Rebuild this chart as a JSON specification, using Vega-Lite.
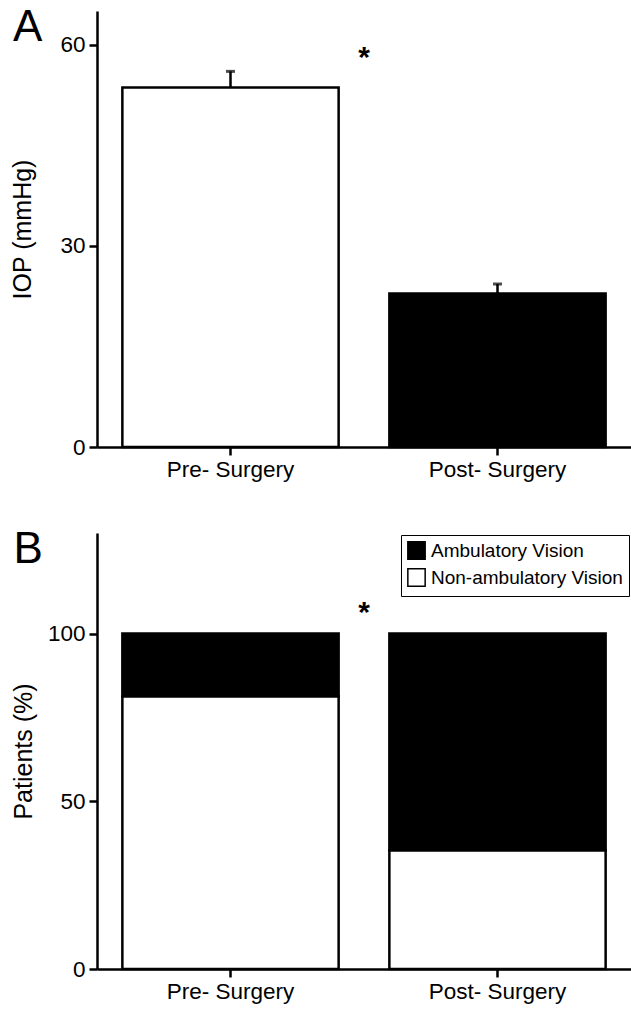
{
  "$schema": "https://vega.github.io/schema/vega-lite/v6.json",
  "padding": {"left": 10, "top": 6, "right": 0, "bottom": 5},
  "background": "white",
  "config": {
    "font": "Liberation Sans",
    "view": {"stroke": null},
    "axis": {
      "domainColor": "black", "domainWidth": 2.5, "tickColor": "black", "tickWidth": 2.5,
      "tickSize": 8, "labelColor": "black", "labelFontSize": 22.5, "labelFont": "Liberation Sans",
      "titleFont": "Liberation Sans", "titleFontSize": 25, "titleFontWeight": "normal", "titleColor": "black",
      "grid": false, "labelPadding": 4
    }
  },
  "datasets": {
    "iop": [
      {"group": "Pre- Surgery", "mean": 53.6, "upper": 56.0},
      {"group": "Post- Surgery", "mean": 22.9, "upper": 24.3}
    ],
    "vision": [
      {"group": "Pre- Surgery", "status": "Non-ambulatory Vision", "pct": 81.3},
      {"group": "Pre- Surgery", "status": "Ambulatory Vision", "pct": 18.7},
      {"group": "Post- Surgery", "status": "Non-ambulatory Vision", "pct": 35.4},
      {"group": "Post- Surgery", "status": "Ambulatory Vision", "pct": 64.6}
    ],
    "starA": [{"label": "*", "y": 58.6}],
    "starB": [{"label": "*", "y": 107.4}]
  },
  "spacing": 47,
  "resolve": {"scale": {"fill": "independent"}, "legend": {"fill": "independent"}},
  "vconcat": [
    {
      "width": 534, "height": 436,
      "title": {"text": "A", "anchor": "start", "frame": "bounds", "fontSize": 44, "fontWeight": "normal", "font": "Liberation Sans", "offset": -39, "dx": 2, "color": "black"},
      "layer": [
        {
          "data": {"name": "iop"},
          "mark": {"type": "bar", "stroke": "black", "strokeWidth": 2.5},
          "encoding": {
            "x": {"field": "group", "type": "nominal", "sort": ["Pre- Surgery", "Post- Surgery"],
                  "scale": {"paddingInner": 0.19, "paddingOuter": 0.095},
                  "axis": {"title": null, "labelAngle": 0, "labelPadding": 3}},
            "y": {"field": "mean", "type": "quantitative", "scale": {"domain": [0, 65], "nice": false},
                  "axis": {"title": "IOP (mmHg)", "values": [0, 30, 60], "titlePadding": 24}},
            "fill": {"field": "group", "type": "nominal", "scale": {"domain": ["Pre- Surgery", "Post- Surgery"], "range": ["white", "black"]}, "legend": null}
          }
        },
        {
          "data": {"name": "iop"},
          "mark": {"type": "rule", "color": "black", "strokeWidth": 2.5},
          "encoding": {
            "x": {"field": "group", "type": "nominal", "sort": ["Pre- Surgery", "Post- Surgery"]},
            "y": {"field": "mean", "type": "quantitative"},
            "y2": {"field": "upper"}
          }
        },
        {
          "data": {"name": "iop"},
          "mark": {"type": "tick", "color": "black", "size": 9, "thickness": 3},
          "encoding": {
            "x": {"field": "group", "type": "nominal", "sort": ["Pre- Surgery", "Post- Surgery"]},
            "y": {"field": "upper", "type": "quantitative"}
          }
        },
        {
          "data": {"name": "starA"},
          "mark": {"type": "text", "fontSize": 30, "fontWeight": "bold", "color": "black", "x": {"expr": "width/2"}, "baseline": "middle", "dy": 4},
          "encoding": {
            "y": {"field": "y", "type": "quantitative"},
            "text": {"field": "label"}
          }
        }
      ]
    },
    {
      "width": 534, "height": 436,
      "title": {"text": "B", "anchor": "start", "frame": "bounds", "fontSize": 44, "fontWeight": "normal", "font": "Liberation Sans", "offset": -39, "dx": 2, "color": "black"},
      "layer": [
        {
          "data": {"name": "vision"},
          "mark": {"type": "bar", "stroke": "black", "strokeWidth": 2.5},
          "encoding": {
            "x": {"field": "group", "type": "nominal", "sort": ["Pre- Surgery", "Post- Surgery"],
                  "scale": {"paddingInner": 0.19, "paddingOuter": 0.095},
                  "axis": {"title": null, "labelAngle": 0, "labelPadding": 3}},
            "y": {"field": "pct", "type": "quantitative", "stack": "zero", "scale": {"domain": [0, 130], "nice": false},
                  "axis": {"title": "Patients (%)", "values": [0, 50, 100], "titlePadding": 11}},
            "fill": {"field": "status", "type": "nominal",
                     "scale": {"domain": ["Ambulatory Vision", "Non-ambulatory Vision"], "range": ["black", "white"]},
                     "legend": {"title": null, "orient": "top-right", "offset": 2, "strokeColor": "black",
                                "padding": 6, "symbolType": "square", "symbolSize": 300, "symbolStrokeColor": "black",
                                "symbolStrokeWidth": 1.5, "labelFontSize": 19, "labelColor": "black", "labelFont": "Liberation Sans",
                                "labelLimit": 400, "rowPadding": 2, "labelOffset": 5, "fillColor": "white"}},
            "order": {"field": "status", "sort": "descending"}
          }
        },
        {
          "data": {"name": "starB"},
          "mark": {"type": "text", "fontSize": 30, "fontWeight": "bold", "color": "black", "x": {"expr": "width/2"}, "baseline": "middle", "dy": 4},
          "encoding": {
            "y": {"field": "y", "type": "quantitative"},
            "text": {"field": "label"}
          }
        }
      ]
    }
  ]
}
